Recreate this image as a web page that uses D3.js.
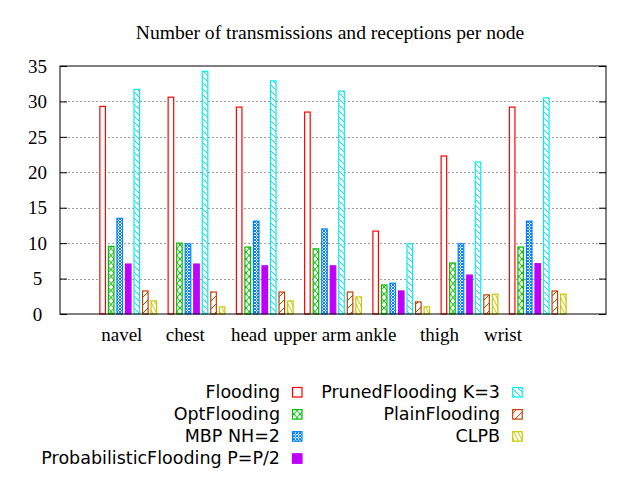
<!DOCTYPE html>
<html>
<head>
<meta charset="utf-8">
<script src="https://cdn.jsdelivr.net/npm/d3@7"></script>
<style>
  body { margin: 0; background: #fff; }
  svg { display: block; }
</style>
</head>
<body>
<div id="chart"></div>
<script>
const categories = ["navel", "chest", "head", "upper arm", "ankle", "thigh", "wrist"];
const seriesNames = ["Flooding", "OptFlooding", "MBP NH=2", "ProbabilisticFlooding P=P/2",
                     "PrunedFlooding K=3", "PlainFlooding", "CLPB"];
const flooding      = [29.3, 30.6, 29.2, 28.5, 11.7, 22.3, 29.2];
const optFlooding   = [9.55, 10.0, 9.45, 9.2, 4.1, 7.2, 9.45];
const mbp           = [13.5, 9.9, 13.1, 12.0, 4.35, 9.9, 13.1];
const probFlooding  = [7.05, 7.05, 6.8, 6.8, 3.25, 5.5, 7.1];
const prunedFlooding = [31.7, 34.25, 32.9, 31.45, 9.9, 21.45, 30.5];
const plainFlooding = [3.25, 3.1, 3.1, 3.1, 1.7, 2.7, 3.25];
const clpb          = [1.85, 1.0, 1.85, 2.4, 1.0, 2.8, 2.8];
const yTicks = [0, 5, 10, 15, 20, 25, 30, 35];

const seriesValues = [flooding, optFlooding, mbp, probFlooding, prunedFlooding, plainFlooding, clpb];
const colors = ["#ff0000", "#00c000", "#0080ff", "#c000ff", "#00eeee", "#c04000", "#c8c800"];
const fills = ["#fff", "url(#p-cross)", "url(#p-fine)", "#c000ff", "url(#p-back)", "url(#p-slash)", "url(#p-steep)"];

const width = 640, height = 480;
const margin = {top: 66, right: 34, bottom: 166, left: 60};

const svg = d3.select("#chart").append("svg")
    .attr("width", width)
    .attr("height", height);
svg.append("rect").attr("width", width).attr("height", height).attr("fill", "#fff");

// fill patterns, gnuplot style
const defs = svg.append("defs");
function pattern(id, w, h, color, d) {
    const p = defs.append("pattern")
        .attr("id", id)
        .attr("patternUnits", "userSpaceOnUse")
        .attr("width", w).attr("height", h);
    p.append("rect").attr("width", w).attr("height", h).attr("fill", "#fff");
    p.append("path").attr("d", d).attr("stroke", color).attr("stroke-width", 1).attr("fill", "none");
}
pattern("p-cross", 6, 7, colors[1], "M0,0L6,7M6,0L0,7");
pattern("p-fine", 3, 3, colors[2], "M0,0L3,3M3,0L0,3M-1,2L1,4M2,-1L4,1M-1,1L1,-1M2,4L4,2");
pattern("p-back", 6, 6, colors[4], "M0,0L6,6M-1,5L1,7M5,-1L7,1");
pattern("p-slash", 8, 8, colors[5], "M0,8L8,0M-1,1L1,-1M7,9L9,7");
pattern("p-steep", 4, 8, colors[6], "M0,0L4,8M-2,4L0,8M4,0L6,4");

const x0 = d3.scaleLinear()
    .domain([0, categories.length + 1])
    .range([margin.left, width - margin.right]);
const slot = (x0(1) - x0(0)) / 8;
const x1 = d3.scaleBand()
    .domain(d3.range(seriesNames.length))
    .range([-3.5 * slot, 3.5 * slot])
    .paddingInner(0.35)
    .paddingOuter(0.175);

const y = d3.scaleLinear()
    .domain([0, 35])
    .range([height - margin.bottom, margin.top]);

// grid
svg.append("g")
    .selectAll("line")
    .data(yTicks.filter(d => d > 0 && d < 35))
    .join("line")
    .attr("x1", margin.left).attr("x2", width - margin.right)
    .attr("y1", d => Math.round(y(d)) + 0.5).attr("y2", d => Math.round(y(d)) + 0.5)
    .attr("stroke", "#a0a0a0")
    .attr("shape-rendering", "crispEdges")
    .attr("stroke-dasharray", "2,2");

// bars
const groups = svg.append("g")
    .selectAll("g")
    .data(seriesValues)
    .join("g");
groups.selectAll("rect")
    .data((vals, si) => vals.map((v, ci) => ({v, ci, si})))
    .join("rect")
    .attr("x", d => x0(d.ci + 1) + x1(d.si))
    .attr("y", d => y(d.v))
    .attr("width", x1.bandwidth())
    .attr("height", d => y(0) - y(d.v))
    .attr("fill", d => fills[d.si])
    .attr("stroke", d => colors[d.si])
    .attr("stroke-width", 1.2);

// border
svg.append("rect")
    .attr("x", margin.left).attr("y", margin.top)
    .attr("width", width - margin.left - margin.right)
    .attr("height", height - margin.top - margin.bottom)
    .attr("fill", "none")
    .attr("stroke", "#000");

// y axes (ticks inward, left and mirrored right)
const yLeft = svg.append("g")
    .attr("transform", `translate(${margin.left},0)`)
    .call(d3.axisRight(y).tickValues(yTicks).tickSize(7).tickFormat(""));
yLeft.select(".domain").remove();
const yRight = svg.append("g")
    .attr("transform", `translate(${width - margin.right},0)`)
    .call(d3.axisLeft(y).tickValues(yTicks).tickSize(7).tickFormat(""));
yRight.select(".domain").remove();

svg.append("g")
    .selectAll("text")
    .data(yTicks)
    .join("text")
    .attr("x", 37.5)
    .attr("y", d => y(d))
    .attr("dy", "0.35em")
    .attr("text-anchor", "middle")
    .attr("font-family", "Liberation Serif, serif")
    .attr("font-size", 19)
    .text(d => d);

// category labels
const xLab = d3.scalePoint()
    .domain(categories)
    .range([121.3, 502.5]);
const xAxis = svg.append("g")
    .attr("transform", `translate(0,${height - margin.bottom})`)
    .call(d3.axisBottom(xLab).tickSize(0).tickPadding(14));
xAxis.select(".domain").remove();
xAxis.selectAll("text")
    .attr("font-family", "Liberation Serif, serif")
    .attr("font-size", 19)
    .attr("fill", "#000");

// title
svg.append("text")
    .attr("x", 330)
    .attr("y", 39)
    .attr("text-anchor", "middle")
    .attr("font-family", "Liberation Serif, serif")
    .attr("font-size", 19.6)
    .text("Number of transmissions and receptions per node");

// legend
const legendCols = [{textX: 280, boxX: 292.5}, {textX: 500, boxX: 512.7}];
const legend = svg.append("g")
    .selectAll("g")
    .data(seriesNames)
    .join("g")
    .attr("transform", (d, i) => {
        const row = i < 4 ? i : i - 4;
        return `translate(0,${392 + row * 22.1})`;
    });
legend.append("text")
    .attr("x", (d, i) => legendCols[i < 4 ? 0 : 1].textX)
    .attr("y", 6)
    .attr("text-anchor", "end")
    .attr("font-family", "DejaVu Sans, sans-serif")
    .attr("font-size", 17.5)
    .text(d => d);
legend.append("rect")
    .attr("x", (d, i) => legendCols[i < 4 ? 0 : 1].boxX)
    .attr("y", -4.5)
    .attr("width", 9.5)
    .attr("height", 9.5)
    .attr("fill", (d, i) => fills[i])
    .attr("stroke", (d, i) => colors[i])
    .attr("stroke-width", 1.2);
</script>
</body>
</html>
